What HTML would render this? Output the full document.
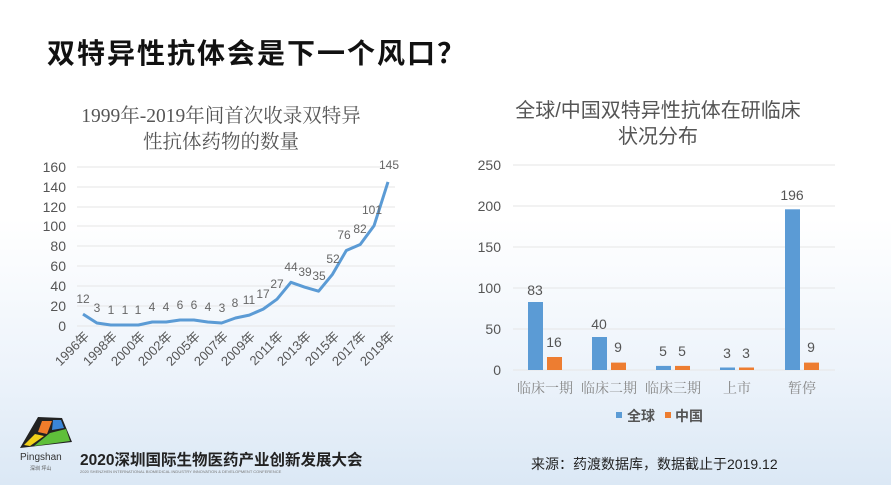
<!DOCTYPE html>
<html><head><meta charset="utf-8"><style>
html,body{margin:0;padding:0}
body{width:891px;height:485px;overflow:hidden;background:linear-gradient(180deg,#ffffff 0%,#ffffff 45%,#eef4fb 75%,#dbe8f5 100%);font-family:"Liberation Sans","Noto Sans CJK SC",sans-serif}
</style></head><body>
<svg width="891" height="485" viewBox="0 0 891 485" xmlns="http://www.w3.org/2000/svg" style="position:absolute;left:0;top:0">
<text x="47" y="63" font-size="28" font-weight="bold" letter-spacing="2" fill="#111" font-family="Liberation Sans,Noto Sans CJK SC,sans-serif">双特异性抗体会是下一个风口？</text>
<g font-family="Liberation Serif,Noto Serif CJK SC,serif" font-size="19.5" fill="#555" text-anchor="middle">
<text x="221" y="122">1999年-2019年间首次收录双特异</text>
<text x="221" y="148">性抗体药物的数量</text>
</g>
<g font-size="20" fill="#555" text-anchor="middle">
<text x="658" y="117">全球/中国双特异性抗体在研临床</text>
<text x="658" y="143">状况分布</text>
</g>
<!-- left chart -->
<g stroke="#e6e6e6" stroke-width="1">
<line x1="77" x2="395" y1="167" y2="167"/><line x1="77" x2="395" y1="187" y2="187"/><line x1="77" x2="395" y1="207" y2="207"/><line x1="77" x2="395" y1="226" y2="226"/><line x1="77" x2="395" y1="246" y2="246"/><line x1="77" x2="395" y1="266" y2="266"/><line x1="77" x2="395" y1="286" y2="286"/><line x1="77" x2="395" y1="306" y2="306"/><line x1="77" x2="395" y1="326" y2="326"/>
</g>
<g font-size="14" fill="#555" text-anchor="end">
<text x="66" y="172">160</text><text x="66" y="192">140</text><text x="66" y="212">120</text><text x="66" y="231">100</text><text x="66" y="251">80</text><text x="66" y="271">60</text><text x="66" y="291">40</text><text x="66" y="311">20</text><text x="66" y="331">0</text>
</g>
<polyline fill="none" stroke="#5b9bd5" stroke-width="3" stroke-linejoin="round" points="83,314.1 96.9,323 110.7,325 124.6,325 138.4,325 152.3,322 166.2,322 180,320 193.9,320 207.7,322 221.6,323 235.5,318 249.3,315.1 263.2,309.1 277,299.2 290.9,282.3 304.8,287.2 318.6,291.2 332.5,274.3 346.3,250.5 360.2,244.5 374.1,225.6 388,181.9"/>
<g font-size="12" fill="#666" text-anchor="middle">
<text x="83" y="303">12</text><text x="97" y="312">3</text><text x="111" y="314">1</text><text x="125" y="314">1</text><text x="138" y="314">1</text><text x="152" y="311">4</text><text x="166" y="311">4</text><text x="180" y="309">6</text><text x="194" y="309">6</text><text x="208" y="311">4</text><text x="222" y="312">3</text><text x="235" y="307">8</text><text x="249" y="304">11</text><text x="263" y="298">17</text><text x="277" y="288">27</text><text x="291" y="271">44</text><text x="305" y="276">39</text><text x="319" y="280">35</text><text x="333" y="263">52</text><text x="344" y="239">76</text><text x="360" y="233">82</text><text x="372" y="214">101</text><text x="389" y="169">145</text>
</g>
<g font-size="13" fill="#555" text-anchor="end">
<text transform="translate(90,337) rotate(-45)">1996年</text>
<text transform="translate(118,337) rotate(-45)">1998年</text>
<text transform="translate(146,337) rotate(-45)">2000年</text>
<text transform="translate(173,337) rotate(-45)">2002年</text>
<text transform="translate(201,337) rotate(-45)">2005年</text>
<text transform="translate(229,337) rotate(-45)">2007年</text>
<text transform="translate(256,337) rotate(-45)">2009年</text>
<text transform="translate(284,337) rotate(-45)">2011年</text>
<text transform="translate(312,337) rotate(-45)">2013年</text>
<text transform="translate(340,337) rotate(-45)">2015年</text>
<text transform="translate(367,337) rotate(-45)">2017年</text>
<text transform="translate(395,337) rotate(-45)">2019年</text>
</g>
<!-- right chart -->
<g stroke="#e6e6e6" stroke-width="1">
<line x1="513" x2="835" y1="165" y2="165"/><line x1="513" x2="835" y1="206" y2="206"/><line x1="513" x2="835" y1="247" y2="247"/><line x1="513" x2="835" y1="288" y2="288"/><line x1="513" x2="835" y1="329" y2="329"/><line x1="513" x2="835" y1="370" y2="370"/>
</g>
<g font-size="14" fill="#555" text-anchor="end">
<text x="501" y="170">250</text><text x="501" y="211">200</text><text x="501" y="252">150</text><text x="501" y="293">100</text><text x="501" y="334">50</text><text x="501" y="375">0</text>
</g>
<g fill="#5b9bd5">
<rect x="528" y="302" width="15" height="68"/><rect x="592" y="337" width="15" height="33"/><rect x="656" y="365.9" width="15" height="4.1"/><rect x="720" y="367.5" width="15" height="2.5"/><rect x="785" y="209.3" width="15" height="160.7"/>
</g>
<g fill="#ed7d31">
<rect x="547" y="357" width="15" height="13"/><rect x="611" y="362.6" width="15" height="7.4"/><rect x="675" y="365.9" width="15" height="4.1"/><rect x="739" y="367.5" width="15" height="2.5"/><rect x="804" y="362.6" width="15" height="7.4"/>
</g>
<g font-size="14" fill="#555" text-anchor="middle">
<text x="535" y="295">83</text><text x="554" y="347">16</text>
<text x="599" y="329">40</text><text x="618" y="352">9</text>
<text x="663" y="356">5</text><text x="682" y="356">5</text>
<text x="727" y="358">3</text><text x="746" y="358">3</text>
<text x="792" y="200">196</text><text x="811" y="352">9</text>
</g>
<g font-size="14" fill="#888" text-anchor="middle" font-family="Liberation Serif,Noto Serif CJK SC,serif">
<text x="545" y="393">临床一期</text><text x="609" y="393">临床二期</text><text x="673" y="393">临床三期</text><text x="737" y="393">上市</text><text x="802" y="393">暂停</text>
</g>
<rect x="616" y="412" width="6" height="6" fill="#5b9bd5"/>
<text x="627" y="421" font-size="14" font-weight="bold" fill="#555">全球</text>
<rect x="665" y="412" width="6" height="6" fill="#ed7d31"/>
<text x="675" y="421" font-size="14" font-weight="bold" fill="#555">中国</text>
<!-- footer -->
<polygon points="38,417 62,418 72,442 20,448" fill="#222"/>
<polygon points="42,421 52,421 47,434 38,432" fill="#f07c2a"/>
<polygon points="53,420 61,420 64,428 52,430" fill="#3a86d8"/>
<polygon points="35,434 44,436 30,446 24,445" fill="#f2d019"/>
<polygon points="50,433 66,429 70,441 34,446" fill="#5fbf3a"/>
<text x="20" y="460" font-size="10" fill="#333">Pingshan</text>
<text x="30" y="470" font-size="5" fill="#555">深圳 坪山</text>
<text x="80" y="465" font-size="15.5" fill="#222" font-weight="bold">2020深圳国际生物医药产业创新发展大会</text>
<text x="80" y="473" font-size="4" fill="#777">2020 SHENZHEN INTERNATIONAL BIOMEDICAL INDUSTRY INNOVATION &amp; DEVELOPMENT CONFERENCE</text>
<text x="531" y="469" font-size="14" fill="#222">来源：药渡数据库，数据截止于2019.12</text>
</svg>
</body></html>
